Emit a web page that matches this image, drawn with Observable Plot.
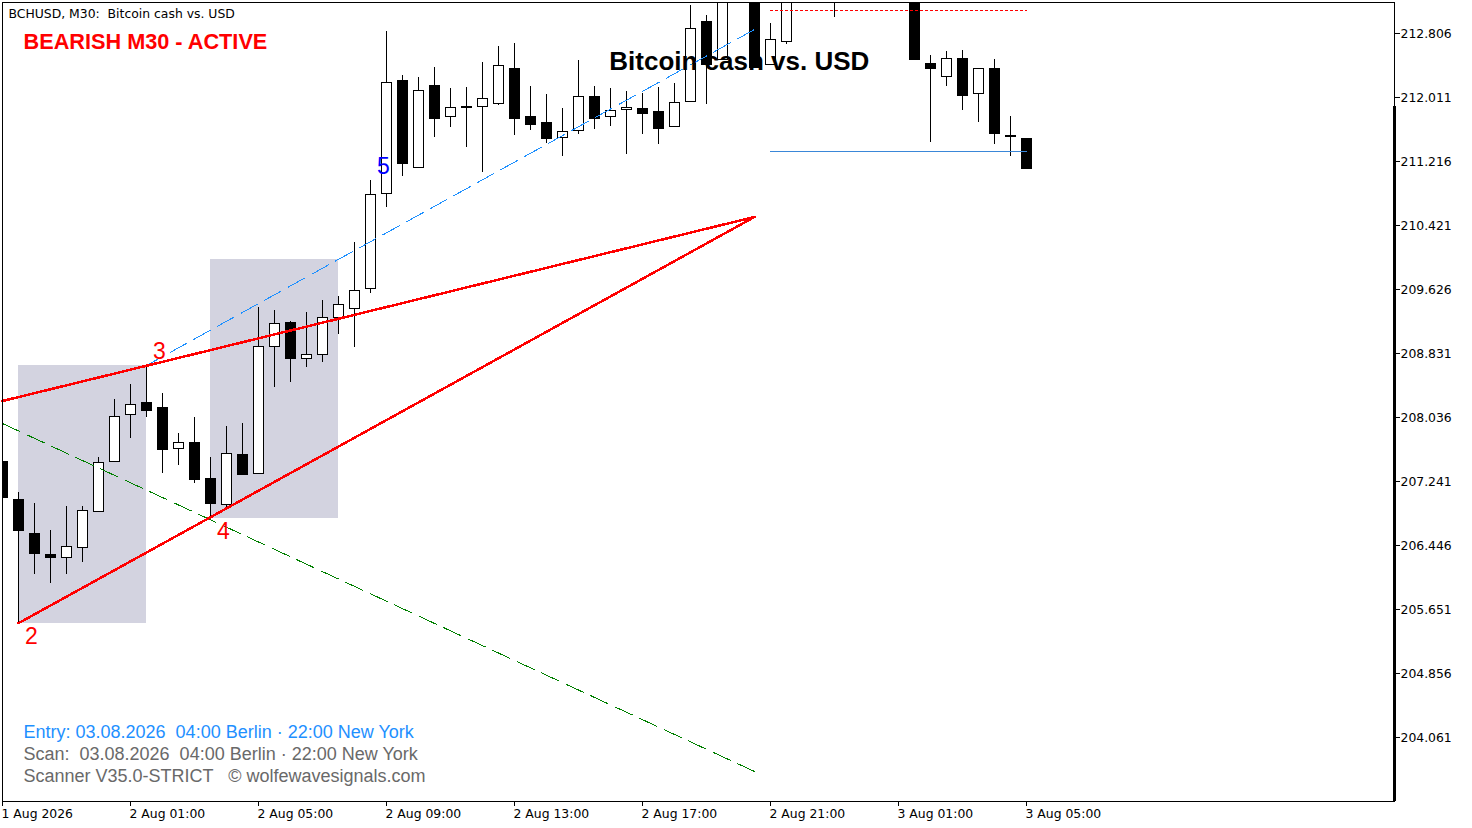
<!DOCTYPE html>
<html><head><meta charset="utf-8">
<script src="https://cdn.jsdelivr.net/npm/d3@7"></script>
<script src="https://cdn.jsdelivr.net/npm/@observablehq/plot@0.6"></script>
<style>
html,body{margin:0;padding:0;background:#fff;overflow:hidden}
svg text{white-space:pre}
</style></head><body><div id="chart"></div>
<script>
const priceTicks=[212.806,212.011,211.216,210.421,209.626,208.831,208.036,207.241,206.446,205.651,204.856,204.061];
const timeTickIndex=[0,8,16,24,32,40,48,56,64];
const timeTickLabels=["1 Aug 2026","2 Aug 01:00","2 Aug 05:00","2 Aug 09:00","2 Aug 13:00","2 Aug 17:00","2 Aug 21:00","3 Aug 01:00","3 Aug 05:00"];
// Values, as pixel-row estimates on the price ladder (converted below)
const toPrice=r=>+(212.806-(r-33)*0.795/64).toFixed(3);
const candleIndex=[0,1,2,3,4,5,6,7,8,9,10,11,12,13,14,15,16,17,18,19,20,21,22,23,24,25,26,27,28,29,30,31,32,33,34,35,36,37,38,39,40,41,42,43,44,45,47,48,49,52,57,58,59,60,61,62,63,64];
const opens=[461,499,533,555,557.3,547.3,511.3,461.3,414.3,402,408,448.3,442,478,504.3,455,473.3,346.3,322.3,358.3,354.3,317.3,308.3,288.3,193.3,80,167.3,86,116.3,106,106.3,103.3,68,117,123,137.3,130.3,97,116.3,109.3,109,111,126.3,101.3,22,60,-20,64.3,41.3,-30,-20,63,76.3,59,93.3,68,136.5,138.4];
const closes=[498,530.7,553.7,557.7,546.3,510.3,462.3,416.3,404.3,410.7,449.7,442.3,479.7,503.7,453.3,474.7,346.3,323.3,358.7,354.3,317.3,304.3,290.3,194.3,82.3,163.7,90.3,118.7,107.3,107.7,98.3,65.3,118.7,124.7,138.7,131.3,96.3,118.7,110.3,107.3,113.7,128.7,102.3,28.3,64.7,-20,67.5,39.3,-20,-20,59.7,68.7,58.3,95.7,68.3,133.7,136,168.7];
const highs=[440,492,503,530,506,506,457,399,384,365,393,433,417,457,426,423,307,310,321,312,300,296,242,180,31,75,77,67,88,87,62,46,43,86,94,108,60,86,88,91,93,87,83,5,15,-30,-30,23,-30,-40,-30,55,51,50,68.3,59,116,138.4];
const lows=[510,622.7,573.7,582.7,573.7,561.7,511.3,461.3,437.7,416.7,472.7,464.7,482.7,516.7,508,474.7,474.3,386.7,381.7,366.7,361.7,333.7,346.7,292.7,206.7,175.7,167.3,136.7,126.7,146.7,171.7,105,134.7,129.7,143,155.7,133.7,128.7,125.7,153.7,133.7,143.7,126.3,101.3,103.7,60,67.5,64.3,43.7,16.7,59.7,141.7,85.7,109.7,121.7,143.7,155.7,168.7];
const candles=candleIndex.map((i,k)=>({i,open:toPrice(opens[k]),close:toPrice(closes[k]),high:toPrice(highs[k]),low:toPrice(lows[k])}));
const zones=[{x1:1,x2:9,y1:toPrice(622.7),y2:toPrice(365)},{x1:13,x2:21,y1:toPrice(518),y2:toPrice(259)}];
const upperLine=[{i:0,p:toPrice(400.5)},{i:47,p:toPrice(216.5)}];
const lowerLine=[{i:1,p:toPrice(622.7)},{i:47,p:toPrice(216.5)}];
const greenLine=[{i:0,p:toPrice(423)},{i:47,p:toPrice(771)}];
const blueLine=[{i:9,p:toPrice(365)},{i:47,p:toPrice(29)}];
const redLevel=[{i:48,p:toPrice(10)},{i:64,p:toPrice(10)}];
const blueLevel=[{i:48,p:toPrice(151.5)},{i:64,p:toPrice(151.5)}];
const waveLabels=[{t:"2",i:1,p:toPrice(636),dx:13,c:"#ff0000"},{t:"3",i:9,p:toPrice(351),dx:13,c:"#ff0000"},{t:"4",i:13,p:toPrice(531),dx:13,c:"#ff0000"},{t:"5",i:24,p:toPrice(166),dx:-3,c:"#0000ff"}];
const uiFont="'DejaVu Sans'";
const armFont="'Liberation Sans'";
const crisp="crispEdges";
const line=(d,o)=>Plot.line(d,{x:"i",y:"p",shapeRendering:crisp,...o});
const corner=(t,dx,dy,size,fill,weight,font)=>Plot.text([t],{text:d=>d,frameAnchor:"top-left",textAnchor:"start",lineAnchor:"middle",dx,dy,fontSize:size,fill,fontWeight:weight,fontFamily:font});
const chart=Plot.plot({
  width:1472,height:828,marginLeft:2,marginRight:78,marginTop:2,marginBottom:27,
  style:{background:"#fff",overflow:"visible"},
  x:{type:"linear",domain:[0,87],range:[2,1394],axis:null},
  y:{type:"linear",domain:[toPrice(2),toPrice(801)],range:[2,801],axis:null},
  marks:[
    Plot.rect(zones,{x1:"x1",x2:"x2",y1:"y1",y2:"y2",fill:"#d3d3e0",shapeRendering:crisp}),
    Plot.ruleX(candles,{x:"i",y1:"low",y2:"high",stroke:"#000",strokeWidth:1,clip:true,shapeRendering:crisp}),
    Plot.rect(candles,{x1:d=>d.i-5/16,x2:d=>d.i+5/16,y1:"open",y2:"close",fill:d=>d.close>=d.open?"#fff":"#000",stroke:"#000",strokeWidth:1,clip:true,shapeRendering:crisp}),
    line(greenLine,{stroke:"#008000",strokeWidth:1,strokeDasharray:"19,8"}),
    line(blueLine,{stroke:"#1e90ff",strokeWidth:1,strokeDasharray:"19,8"}),
    line(upperLine,{stroke:"#ff0000",strokeWidth:2.5}),
    line(lowerLine,{stroke:"#ff0000",strokeWidth:2.5}),
    line(redLevel,{stroke:"#ff0000",strokeWidth:1,strokeDasharray:"3,2",strokeDashoffset:0.5}),
    line(blueLevel,{stroke:"#3a87d8",strokeWidth:1}),
    ...waveLabels.map(w=>Plot.text([w],{x:"i",y:"p",text:"t",dx:w.dx,fill:"c",fontSize:23,fontFamily:armFont})),
    Plot.frame({stroke:"#000",strokeWidth:1,shapeRendering:crisp}),
    Plot.ruleX([87],{y1:toPrice(106),y2:toPrice(801),stroke:"#000",strokeWidth:3,shapeRendering:crisp}),
    Plot.axisY({anchor:"right",ticks:priceTicks,tickFormat:()=>"",tickSize:5,label:null,color:"#000"}),
    Plot.axisY({anchor:"right",ticks:priceTicks,tickFormat:d=>d.toFixed(3),tickSize:0,tickPadding:6,dy:1,label:null,fontSize:12.4,fontFamily:uiFont,color:"#000"}),
    Plot.axisX({anchor:"bottom",ticks:timeTickIndex,tickFormat:()=>"",tickSize:5,label:null,color:"#000"}),
    Plot.axisX({anchor:"bottom",ticks:timeTickIndex,tickFormat:d=>timeTickLabels[timeTickIndex.indexOf(d)],tickSize:0,tickPadding:7,dx:-1,dy:1,label:null,textAnchor:"start",fontSize:12.4,fontFamily:uiFont,color:"#000"}),
    corner("BCHUSD, M30:  Bitcoin cash vs. USD",6,12,12.4,"#000","normal",uiFont),
    corner("BEARISH M30 - ACTIVE",21,40,21.7,"#ff0000","bold",armFont),
    Plot.text(["Bitcoin cash vs. USD"],{text:d=>d,x:46.05,y:toPrice(61),fontSize:26,fontWeight:"bold",fontFamily:armFont,fill:"#000"}),
    corner("Entry: 03.08.2026  04:00 Berlin · 22:00 New York",21,730,18,"#1e90ff","normal",armFont),
    corner("Scan:  03.08.2026  04:00 Berlin · 22:00 New York",21,752,18,"#696969","normal",armFont),
    corner("Scanner V35.0-STRICT   © wolfewavesignals.com",21,774,18,"#696969","normal",armFont)
  ]
});
document.getElementById("chart").appendChild(chart);
</script></body></html>
